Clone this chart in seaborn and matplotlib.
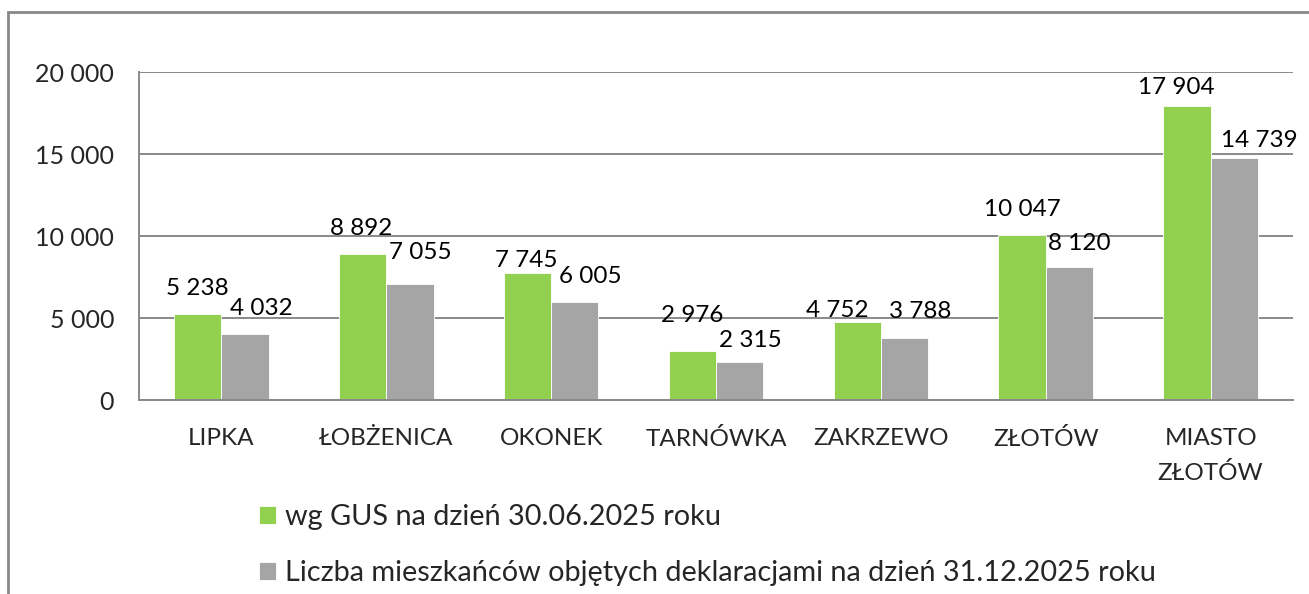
import pandas as pd
import matplotlib.pyplot as plt
import seaborn as sns
from matplotlib.patches import Rectangle

# dane
gminy = ['LIPKA', 'ŁOBŻENICA', 'OKONEK', 'TARNÓWKA', 'ZAKRZEWO', 'ZŁOTÓW', 'MIASTO\nZŁOTÓW']
gus = [5238, 8892, 7745, 2976, 4752, 10047, 17904]
deklaracje = [4032, 7055, 6005, 2315, 3788, 8120, 14739]
serie = ['wg GUS na dzień 30.06.2025 roku',
         'Liczba mieszkańców objętych deklaracjami na dzień 31.12.2025 roku']
kolory = ['#92D050', '#A5A5A5']

# przesunięcia etykiet (px) jak w oryginale
przes_gus = [(0, 19), (-1, 19), (-1, 6), (0, 29), (-20, 5), (0, 19), (-11, 12)]
przes_dekl = [(16, 19), (10, 25), (16, 19), (11, 15), (16, 20), (10, 17), (25, 11)]

df = pd.DataFrame({
    'gmina': gminy * 2,
    'liczba': gus + deklaracje,
    'seria': [serie[0]] * len(gminy) + [serie[1]] * len(gminy),
})

def fmt(v):
    return f'{int(v):,}'.replace(',', ' ')

sns.set_style('white')
plt.rcParams['font.family'] = ['Lato', 'DejaVu Sans']

fig = plt.figure(figsize=(13.09, 5.94), dpi=100)
ax = fig.add_axes([139/1309, 1 - 400/594, (1293 - 139)/1309, 328/594])

sns.barplot(data=df, x='gmina', y='liczba', hue='seria', palette=kolory,
            width=0.574, ax=ax, saturation=1, edgecolor='white', linewidth=0.6,
            legend=True)

for cont, przes in zip(ax.containers, [przes_gus, przes_dekl]):
    for bar, v, (dx, dy) in zip(cont, cont.datavalues, przes):
        ax.annotate(fmt(v), (bar.get_x() + bar.get_width() / 2, bar.get_height()),
                    xytext=(dx, dy), textcoords='offset pixels',
                    ha='center', va='baseline', fontsize=17.5, color='black')

szary = '#898989'
ax.set_ylim(0, 20000)
ax.set_xlim(-0.5, 6.5)
ax.set_yticks(range(0, 20001, 5000))
ax.set_yticklabels([fmt(v) for v in range(0, 20001, 5000)], fontsize=18)
ax.yaxis.grid(True, color=szary, linewidth=1.4)
ax.set_axisbelow(True)
ax.set_xlabel('')
ax.set_ylabel('')
ax.tick_params(axis='x', which='major', length=0, labelsize=17.5, pad=20)
for t in ax.get_xticklabels():
    t.set_linespacing(1.75)
ax.set_xticks([i - 0.5 for i in range(len(gminy) + 1)], minor=True)
ax.tick_params(axis='x', which='minor', length=8, width=1.4, color=szary, direction='out')
ax.tick_params(axis='y', length=8, width=1.4, color=szary, direction='out', pad=10)
for s in ['top', 'right']:
    ax.spines[s].set_visible(False)
for s in ['left', 'bottom']:
    ax.spines[s].set_color(szary)
    ax.spines[s].set_linewidth(1.4)

h, l = ax.get_legend_handles_labels()
ax.legend(h, l, loc='upper left', bbox_to_anchor=(233/1309, 1 - 478/594),
          bbox_transform=fig.transFigure, frameon=False, fontsize=20.8,
          handlelength=0.6, handleheight=0.6, handletextpad=0.3, labelspacing=1.05)

fig.patches.append(Rectangle((8/1309, -0.02), 1.0, 1 - 12/594 + 0.02,
                             transform=fig.transFigure, fill=False,
                             edgecolor=szary, linewidth=2))

plt.savefig('out.png', dpi=100)
